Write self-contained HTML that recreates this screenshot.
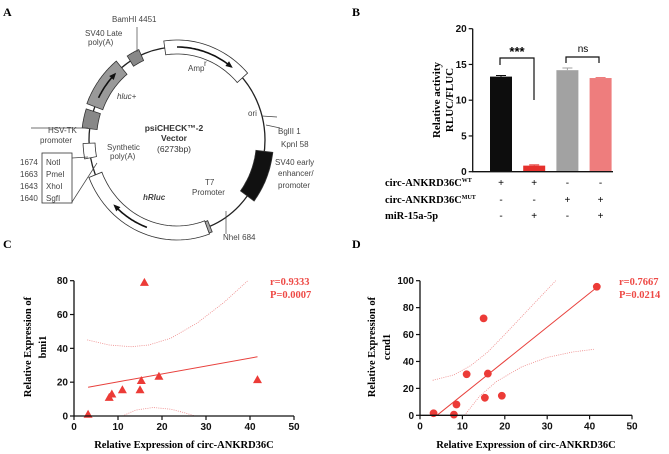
<!DOCTYPE html>
<html><head><meta charset="utf-8"><style>
body{margin:0;background:#fff}
svg{display:block}
text{font-family:"Liberation Sans",sans-serif}
.serif{font-family:"Liberation Serif",serif;font-weight:bold}
.pl{font-size:8px;fill:#444}
.tk{font-size:10px;font-weight:bold;fill:#111}
</style></head><body>
<svg id="fig" width="669" height="454" viewBox="0 0 669 454" xmlns="http://www.w3.org/2000/svg">
<g>
<text class="serif" x="3" y="16" font-size="12">A</text>
<text class="serif" x="352" y="16" font-size="12">B</text>
<text class="serif" x="3" y="248" font-size="12">C</text>
<text class="serif" x="352" y="248" font-size="12">D</text>
</g>
<g id="plasmid"></g>
<g id="bar"></g>
<g id="sc"></g>
<g id="sd"></g>
</svg>
<script>
// ---- Panel B data ----
const barCats = ["wt", "wt-mir", "mut", "mut-mir"];
const barVals = [13.3, 0.85, 14.2, 13.1];
const barErr = [0.15, 0.1, 0.3, 0.08];
const barTicks = [0, 5, 10, 15, 20];
// ---- Panel C data ----
const cX = [3.2, 8, 8.6, 11, 15, 15.3, 16, 19.3, 41.7];
const cY = [1, 11, 13, 15.5, 15.5, 21, 79, 23.5, 21.5];
const cFit = [[3.2, 17], [41.7, 35]];
const cUpper = [[3, 45], [8, 42], [13, 41], [17, 42], [22, 46], [28, 55], [34, 67], [39.5, 80]];
const cLower = [[11, 0], [14, 3.5], [18, 5], [22, 4], [25, 2], [27.5, 0]];
const cYTicks = [0, 20, 40, 60, 80];
// ---- Panel D data ----
const dX = [3.2, 8, 8.6, 11, 15, 15.3, 16, 19.3, 41.7];
const dY = [1.5, 0.5, 8, 30.5, 72, 13, 31, 14.5, 95.5];
const dFit = [[4, 0], [41.7, 95]];
const dUpper = [[3, 26], [8, 30], [12, 37], [16, 47], [20, 60], [26, 80], [32, 100]];
const dLower = [[10.5, 0], [14, 14], [18, 25], [24, 36], [30, 43], [36, 47], [41, 49]];
const dYTicks = [0, 20, 40, 60, 80, 100];
const xTicks = [0, 10, 20, 30, 40, 50];

const NS = "http://www.w3.org/2000/svg";
function mk(parent, tag, attrs, txt) {
  const e = document.createElementNS(NS, tag);
  for (const k in attrs) e.setAttribute(k, attrs[k]);
  if (txt !== undefined) e.textContent = txt;
  parent.appendChild(e);
  return e;
}

// ---------------- Panel A: plasmid ----------------
(function () {
  const g = document.getElementById("plasmid");
  const cx = 177, cy = 140, rx = 88, ry = 93;
  const P = (a, d) => { const r = a * Math.PI / 180; return [cx + (rx + d) * Math.sin(r), cy - (ry + d) * Math.cos(r)]; };
  const e = mk(g, "ellipse", {cx, cy, rx, ry, fill: "none", stroke: "#222", "stroke-width": 1.3});
  
  
  function band(a1, a2, w, fill, name) {
    let d = "";
    const n = 30;
    for (let i = 0; i <= n; i++) { const p = P(a1 + (a2 - a1) * i / n, w); d += (i ? "L" : "M") + p[0].toFixed(1) + " " + p[1].toFixed(1); }
    for (let i = n; i >= 0; i--) { const p = P(a1 + (a2 - a1) * i / n, -w); d += "L" + p[0].toFixed(1) + " " + p[1].toFixed(1); }
    const el = mk(g, "path", {d: d + "Z", fill, stroke: "#333", "stroke-width": 0.8});
    
    
  }
  function arrow(a1, a2, name) {
    let d = ""; const n = 30;
    for (let i = 0; i <= n; i++) { const p = P(a1 + (a2 - a1) * i / n, 0); d += (i ? "L" : "M") + p[0].toFixed(1) + " " + p[1].toFixed(1); }
    const el = mk(g, "path", {d, fill: "none", stroke: "#111", "stroke-width": 1.6});
    
    
    const pe = P(a2, 0), pb = P(a2 - Math.sign(a2 - a1) * 4, 0);
    const dx = pe[0] - pb[0], dy = pe[1] - pb[1], L = Math.hypot(dx, dy), ux = dx / L, uy = dy / L;
    mk(g, "path", {d: `M${pe[0]+ux*2} ${pe[1]+uy*2} L${pe[0]-ux*5-uy*3} ${pe[1]-uy*5+ux*3} L${pe[0]-ux*5+uy*3} ${pe[1]-uy*5-ux*3}Z`, fill: "#111"});
  }
  band(-8, 48, 7, "#fff", "amp-gene");
  arrow(0, 38, "amp-arrow");
  band(291, 321, 8.5, "#999", "hluc-gene");
  arrow(297, 315, "hluc-arrow");
  band(328, 336, 6, "#888", "sv40-late-polya");
  band(277, 288, 7.5, "#888", "hsv-tk-promoter");
  band(259, 268, 6, "#fff", "synthetic-polya");
  band(160, 248, 7, "#fff", "hrluc-gene");
  arrow(200, 225, "hrluc-arrow");
  band(97, 127, 8.5, "#111", "sv40-early-promoter");
  band(158, 160, 6, "#aaa", "t7-promoter-box");
  mk(g, "path", {d: "M137 27 L137 52 M262 116 L277 117 M266 125 L280 128 M226 211 L226 234 M31 128 L88 128 M72 158 L88 157 M72 202 L97 163", stroke: "#444", "stroke-width": 0.7, fill: "none"});
  mk(g, "rect", {x: 42, y: 153, width: 30, height: 50, fill: "#fff", stroke: "#333", "stroke-width": 0.8});
  const labels = [
    ["BamHI 4451", 112, 22], ["SV40 Late", 85, 36], ["poly(A)", 88, 45], ["ori", 248, 116],
    ["HSV-TK", 48, 133], ["promoter", 40, 143], ["Synthetic", 107, 150], ["poly(A)", 110, 159],
    ["BglII 1", 278, 134], ["KpnI 58", 281, 147], ["SV40 early", 275, 165], ["enhancer/", 278, 176], ["promoter", 278, 188],
    ["T7", 205, 185], ["Promoter", 192, 195], ["NheI 684", 223, 240],
    ["1674", 20, 165], ["1663", 20, 177], ["1643", 20, 189], ["1640", 20, 201],
    ["NotI", 46, 165], ["PmeI", 46, 177], ["XhoI", 46, 189], ["SgfI", 46, 201]
  ];
  labels.forEach(l => {
    const t = mk(g, "text", {x: l[1], y: l[2], class: "pl"}, l[0]);
    
    
  });
  const amp = mk(g, "text", {x: 188, y: 71, class: "pl"}, "Amp");
  
  
  mk(g, "text", {x: 204, y: 66, class: "pl", "font-size": 5}, "r");
  const hl = mk(g, "text", {x: 117, y: 99, class: "pl", "font-style": "italic"}, "hluc+");
  
  
  const hr = mk(g, "text", {x: 143, y: 200, class: "pl", "font-style": "italic", "font-weight": "bold", fill: "#222"}, "hRluc");
  
  
  [["psiCHECK™-2", 131, "bold"], ["Vector", 141, "bold"], ["(6273bp)", 152, "normal"]].forEach(l => {
    const t = mk(g, "text", {x: 174, y: l[1], "text-anchor": "middle", "font-size": 8.5, "font-weight": l[2], fill: "#333"}, l[0]);
    
    
  });
})();

// ---------------- Panel B: bars ----------------
(function () {
  const g = document.getElementById("bar");
  const y0 = 171.7, y1 = 28.7, ax = 472.7;
  const ys = v => y0 - (v - 0) / 20 * (y0 - y1);
  const colors = ["#0d0d0d", "#e5302c", "#a2a2a2", "#ee7d7d"];
  const xl = i => 490 + i * 33.2;
  barVals.forEach((v, i) => {
    const r = mk(g, "rect", {x: xl(i), y: ys(v), width: 22, height: y0 - ys(v), fill: colors[i]});
    
    
    mk(g, "path", {d: `M${xl(i)+6} ${ys(v + barErr[i])} H${xl(i)+16} M${xl(i)+11} ${ys(v + barErr[i])} V${ys(v)}`, stroke: colors[i], "stroke-width": 1});
  });
  mk(g, "path", {d: `M${ax} ${y1} V${y0} H613`, stroke: "#111", "stroke-width": 1.3, fill: "none"});
  barTicks.forEach(t => {
    mk(g, "line", {x1: ax - 4, x2: ax, y1: ys(t), y2: ys(t), stroke: "#111", "stroke-width": 1.2});
    const tx = mk(g, "text", {x: ax - 6, y: ys(t) + 3.5, "text-anchor": "end", class: "tk"}, t);
    
    
  });
  const yt = mk(g, "text", {transform: "translate(440,100) rotate(-90)", "text-anchor": "middle", class: "serif", "font-size": 11}, "Relative activity");
  
  
  mk(g, "text", {transform: "translate(453,100) rotate(-90)", "text-anchor": "middle", class: "serif", "font-size": 11}, "RLUC/FLUC");
  mk(g, "path", {d: "M500 65 V58 H534 V100 M566 63 V57 H599 V63", stroke: "#111", "stroke-width": 1.2, fill: "none"});
  const st = mk(g, "text", {x: 517, y: 56, "text-anchor": "middle", "font-size": 13, "font-weight": "bold"}, "***");
  
  
  const ns = mk(g, "text", {x: 583, y: 52, "text-anchor": "middle", "font-size": 10}, "ns");
  
  
  const rows = [["circ-ANKRD36C", "WT", 186, ["+", "+", "-", "-"]], ["circ-ANKRD36C", "MUT", 203, ["-", "-", "+", "+"]], ["miR-15a-5p", "", 219, ["-", "+", "-", "+"]]];
  rows.forEach(r => {
    const t = mk(g, "text", {x: 385, y: r[2], class: "serif", "font-size": 10.5}, r[0]);
    
    
    if (r[1]) { mk(t, "tspan", {"font-size": 6, dy: -4}, r[1]); }
    r[3].forEach((s, i) => mk(g, "text", {x: xl(i) + 11, y: r[2], "text-anchor": "middle", "font-size": 10}, s));
  });
})();

// ---------------- Scatter helper ----------------
function scatter(id, o) {
  const g = document.getElementById(id);
  const xs = v => o.x0 + v / 50 * (o.x1 - o.x0);
  const ys = v => o.y0 - v / o.ymax * (o.y0 - o.y1);
  const pts = arr => arr.map(p => xs(p[0]).toFixed(1) + "," + ys(p[1]).toFixed(1)).join(" ");
  mk(g, "polyline", {points: pts(o.upper), fill: "none", stroke: "#e88", "stroke-width": 0.8, "stroke-dasharray": "1 1.2"});
  mk(g, "polyline", {points: pts(o.lower), fill: "none", stroke: "#e88", "stroke-width": 0.8, "stroke-dasharray": "1 1.2"});
  const fl = mk(g, "polyline", {points: pts(o.fit), fill: "none", stroke: "#e8403c", "stroke-width": 1});
  
  
  o.xs.forEach((v, i) => {
    const X = xs(v), Y = ys(o.ys[i]);
    let m;
    if (o.tri) m = mk(g, "path", {d: `M${X} ${Y-4.5} L${X+4.5} ${Y+3.5} L${X-4.5} ${Y+3.5}Z`, fill: "#ec3b37"});
    else m = mk(g, "circle", {cx: X, cy: Y, r: 3.9, fill: "#ec3b37"});
    
    
  });
  mk(g, "path", {d: `M${o.x0} ${o.y1} V${o.y0} H${o.x1}`, stroke: "#111", "stroke-width": 1.3, fill: "none"});
  o.yt.forEach(t => {
    mk(g, "line", {x1: o.x0 - 4, x2: o.x0, y1: ys(t), y2: ys(t), stroke: "#111", "stroke-width": 1.2});
    const tx = mk(g, "text", {x: o.x0 - 6, y: ys(t) + 3.5, "text-anchor": "end", class: "tk"}, t);
    
    
  });
  xTicks.forEach(t => {
    mk(g, "line", {x1: xs(t), x2: xs(t), y1: o.y0, y2: o.y0 + 4, stroke: "#111", "stroke-width": 1.2});
    const tx = mk(g, "text", {x: xs(t), y: o.y0 + 14, "text-anchor": "middle", class: "tk"}, t);
    
    
  });
  const xt = mk(g, "text", {x: (o.x0 + o.x1) / 2, y: 448, "text-anchor": "middle", class: "serif", "font-size": 10.5}, "Relative Expression of circ-ANKRD36C");
  
  
  const yt = mk(g, "text", {transform: `translate(${o.ytx},347) rotate(-90)`, "text-anchor": "middle", class: "serif", "font-size": 10.5}, "Relative Expression of");
  
  
  mk(g, "text", {transform: `translate(${o.ytx + 15},347) rotate(-90)`, "text-anchor": "middle", class: "serif", "font-size": 10.5}, o.gene);
  const s1 = mk(g, "text", {x: o.sx, y: 285, class: "serif", "font-size": 10.5, fill: "#ee4a46"}, o.r);
  
  
  const s2 = mk(g, "text", {x: o.sx, y: 298, class: "serif", "font-size": 10.5, fill: "#ee4a46"}, o.p);
  
  
}
scatter("sc", {x0: 74, x1: 294, y0: 416, y1: 280.7, ymax: 80, xs: cX, ys: cY, fit: cFit, upper: cUpper, lower: cLower, yt: cYTicks, tri: true, ytx: 31, gene: "bmi1", sx: 270, r: "r=0.9333", p: "P=0.0007"});
scatter("sd", {x0: 420, x1: 632, y0: 415.3, y1: 280.7, ymax: 100, xs: dX, ys: dY, fit: dFit, upper: dUpper, lower: dLower, yt: dYTicks, tri: false, ytx: 375, gene: "ccnd1", sx: 619, r: "r=0.7667", p: "P=0.0214"});
</script>
</body></html>
